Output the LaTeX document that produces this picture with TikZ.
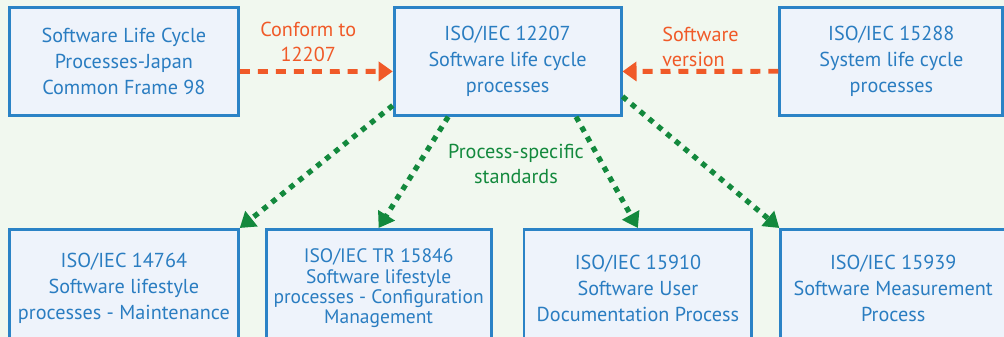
\documentclass[tikz,border=0pt]{standalone}
\usepackage{fontspec}
\setmainfont{PT Sans}
\usepackage{tikz}
\usetikzlibrary{positioning,calc,arrows.meta}

\definecolor{bgGreen}{HTML}{F1F8EF}
\definecolor{boxFill}{HTML}{EEF3FB}
\definecolor{boxBlue}{HTML}{2B83C6}
\definecolor{txtBlue}{HTML}{2A7DC1}
\definecolor{arrOrange}{HTML}{F05A28}
\definecolor{arrGreen}{HTML}{13893D}

\begin{document}
\begin{tikzpicture}[x=0.02cm, y=-0.02cm,
    stdbox/.style={draw=boxBlue, fill=boxFill, line width=1.6pt, text=txtBlue,
      align=center, inner sep=0pt, font=\fontsize{11.5}{14.6}\selectfont},
    topbox/.style={stdbox, minimum height=2.16cm},
    lowbox/.style={stdbox, minimum height=2.36cm},
    conform/.style={arrOrange, line width=2.8pt, dash pattern=on 0.2cm off 0.16cm,
      -{Triangle[length=0.28cm, width=0.38cm]}},
    specific/.style={arrGreen, line width=3pt, dash pattern=on 0.11cm off 0.12cm,
      -{Triangle[length=0.3cm, width=0.38cm]}},
    lbl/.style={align=center, inner sep=0pt, font=\fontsize{11.5}{14.6}\selectfont}]
  \useasboundingbox (0,0) rectangle (1004,337);
  \clip (0,0) rectangle (1004,337);
  \fill[bgGreen] (0,0) rectangle (1004,337);

  % top row
  \node[topbox, minimum width=4.58cm, anchor=north west] (jcf98) at (8,6)
    {Software Life Cycle\\Processes-Japan\\Common Frame 98};
  \node[topbox, minimum width=4.54cm, right=3.06cm of jcf98] (iso12207)
    {ISO/IEC 12207\\Software life cycle\\processes};
  \node[topbox, minimum width=4.46cm, right=3.12cm of iso12207] (iso15288)
    {ISO/IEC 15288\\System life cycle\\processes};

  % bottom row
  \node[lowbox, minimum width=4.58cm, anchor=north west] (iso14764) at (8,228)
    {ISO/IEC 14764\\Software lifestyle\\processes - Maintenance};
  \node[lowbox, minimum width=4.5cm, right=0.5cm of iso14764,
        font=\fontsize{11.1}{11.6}\selectfont] (iso15846)
    {ISO/IEC TR 15846\\Software lifestyle\\processes - Configuration\\Management};
  \node[lowbox, minimum width=4.56cm, right=0.6cm of iso15846] (iso15910)
    {ISO/IEC 15910\\Software User\\Documentation Process};
  \node[lowbox, minimum width=4.5cm, right=0.52cm of iso15910] (iso15939)
    {ISO/IEC 15939\\Software Measurement\\Process};

  % relations
  \draw[conform] (jcf98.355) -- node[lbl, arrOrange, above=0.14cm, xshift=-0.16cm] {Conform to\\12207} (iso12207.185);
  \draw[conform] (iso15288.185) -- node[lbl, arrOrange, above=0.04cm, align=left] {Software\\version} (iso12207.355);

  \draw[specific] (iso12207.201) -- (iso14764.north east);
  \draw[specific] (iso12207.223) -- (iso15846.north);
  \draw[specific] (iso12207.321) -- (iso15910.north);
  \draw[specific] (iso12207.343) -- (iso15939.north west);

  \node[lbl, arrGreen] (stdLabel) at (516,164) {Process-specific\\standards};
\end{tikzpicture}
\end{document}
